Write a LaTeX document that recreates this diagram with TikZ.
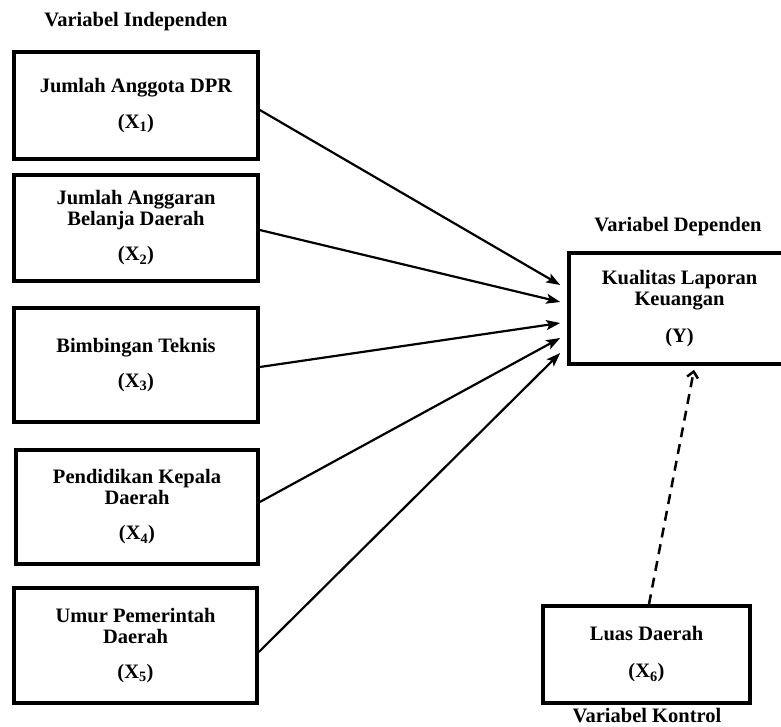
\documentclass[tikz,border=0pt]{standalone}
\usepackage{fontspec}
\setmainfont{Liberation Serif}
\usetikzlibrary{arrows.meta}
\begin{document}
\begin{tikzpicture}[x=1pt,y=-1pt,
  box/.style={draw, line width=3.6pt, align=center, inner sep=0pt,
    font=\bfseries\fontsize{20.5}{21}\selectfont},
  lbl/.style={font=\bfseries\fontsize{20.5}{21}\selectfont, inner sep=0pt},
  link/.style={line width=2.2pt, -{Stealth[length=14pt,width=10pt,inset=3pt]}},
  ctrl/.style={line width=2.5pt, dash pattern=on 10pt off 7pt, -{Straight Barb[length=6pt,width=11pt]}}]
\useasboundingbox (0,0) rectangle (781,727);
\fill[white] (0,0) rectangle (781,727);

\node[lbl] (ti) at (136,22) {Variabel Independen};
\node[lbl] (td) at (678,227) {Variabel Dependen};
\node[lbl] (tk) at (647,716) {Variabel Kontrol};

\node[box, minimum width=244pt, minimum height=107pt] (x1) at (136,105.5)
  {Jumlah Anggota DPR\\[15pt](X\textsubscript{1})};
\node[box, minimum width=244pt, minimum height=106pt] (x2) at (136,228)
  {Jumlah Anggaran\\Belanja Daerah\\[14pt](X\textsubscript{2})};
\node[box, minimum width=244pt, minimum height=114pt] (x3) at (136,365)
  {Bimbingan Teknis\\[14pt](X\textsubscript{3})};
\node[box, minimum width=242pt, minimum height=114pt] (x4) at (137,507)
  {Pendidikan Kepala\\Daerah\\[14pt](X\textsubscript{4})};
\node[box, minimum width=243pt, minimum height=115pt] (x5) at (135.5,645.5)
  {Umur Pemerintah\\Daerah\\[14pt](X\textsubscript{5})};
\node[box, minimum width=221pt, minimum height=111pt] (y) at (679.5,308.5)
  {Kualitas Laporan\\Keuangan\\[16pt](Y)};
\node[box, minimum width=207pt, minimum height=97pt] (x6) at (646.5,654.5)
  {Luas Daerah\\[16pt](X\textsubscript{6})};

\draw[link] ([yshift=-4.5pt]x1.east) -- ([xshift=-7pt,yshift=23.5pt]y.west);
\draw[link] ([yshift=-2pt]x2.east) -- ([xshift=-7pt,yshift=6.5pt]y.west);
\draw[link] ([yshift=-2pt]x3.east) -- ([xshift=-7pt,yshift=-14.5pt]y.west);
\draw[link] ([yshift=5pt]x4.east) -- ([xshift=-7pt,yshift=-29.5pt]y.west);
\draw[link] ([yshift=-6.5pt]x5.east) -- ([xshift=-7pt,yshift=-44.5pt]y.west);
\draw[ctrl] ([xshift=2.5pt]x6.north) -- ([xshift=14.5pt,yshift=-4pt]y.south);
\end{tikzpicture}
\end{document}
